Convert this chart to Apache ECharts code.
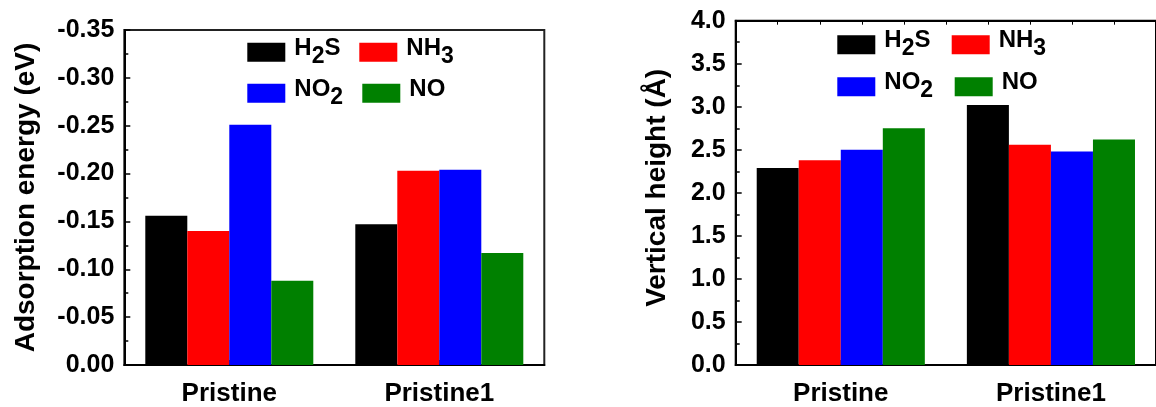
<!DOCTYPE html>
<html>
<head>
<meta charset="utf-8">
<script src="https://cdn.jsdelivr.net/npm/echarts@6/dist/echarts.min.js"></script>
<style>
html,body{margin:0;padding:0;background:#fff;}
#chart{width:1156px;height:407px;}
</style>
</head>
<body>
<div id="chart"></div>
<script>
var categories = ['Pristine', 'Pristine1'];
var seriesNames = ['H2S', 'NH3', 'NO2', 'NO'];
var seriesColors = ['#000000', '#FF0000', '#0000FF', '#008000'];
// Adsorption energy (eV)
var energyH2S = [-0.156, -0.147];
var energyNH3 = [-0.140, -0.203];
var energyNO2 = [-0.251, -0.204];
var energyNO  = [-0.088, -0.117];
// Vertical height (Å)
var heightH2S = [2.29, 3.02];
var heightNH3 = [2.38, 2.56];
var heightNO2 = [2.50, 2.48];
var heightNO  = [2.75, 2.62];
var energyTicks = { min: -0.35, max: 0, interval: 0.05 };
var heightTicks = { min: 0, max: 4.0, interval: 0.5 };

var energyData = [energyH2S, energyNH3, energyNO2, energyNO];
var heightData = [heightH2S, heightNH3, heightNO2, heightNO];

var FONT = '"Liberation Sans", Arial, sans-serif';
var legendRich = {
  b: { fontSize: 24, fontWeight: 'bold', fontFamily: FONT, color: '#000', padding: [0, 0, 8, 0] },
  p: { fontSize: 24, fontWeight: 'bold', fontFamily: FONT, color: '#000', padding: [0, 0, 8, 4] },
  s: { fontSize: 23, fontWeight: 'bold', fontFamily: FONT, color: '#000', padding: [8, 0, 0, 0] }
};
var legendFmt = {
  'H2S': '{p|H}{s|2}{b|S}',
  'NH3': '{p|NH}{s|3}',
  'NO2': '{p|NO}{s|2}',
  'NO':  '{p|NO}'
};
function legendItem(name, left, centerY) {
  return {
    data: [name], left: left, top: centerY - 15, padding: 0,
    itemWidth: 38, itemHeight: 19, icon: 'rect',
    selectedMode: false,
    itemStyle: { borderWidth: 0 },
    formatter: function (n) { return legendFmt[n]; },
    textStyle: { rich: legendRich }
  };
}

function valueAxis(grid, ticks, digits, name, nameGap, nameSize, namePad) {
  return {
    type: 'value', gridIndex: grid,
    min: ticks.min, max: ticks.max, interval: ticks.interval,
    inverse: ticks.min < 0,
    name: name, nameLocation: 'middle', nameRotate: 90, nameGap: nameGap,
    nameTextStyle: { fontSize: nameSize, fontWeight: 'bold', fontFamily: FONT, color: '#000', padding: namePad },
    axisLine: { show: true, lineStyle: { color: '#000', width: 2 } },
    axisTick: { show: true, inside: true, length: 6, lineStyle: { color: '#000', width: 1.5 } },
    minorTick: { show: true, splitNumber: 2, length: 4, lineStyle: { color: '#000', width: 1.5 } },
    splitLine: { show: false },
    axisLabel: {
      fontSize: 25, fontWeight: 'bold', fontFamily: FONT, color: '#000', margin: 10,
      formatter: function (v) { if (Math.abs(v) < 1e-9) v = 0; return v.toFixed(digits); }
    }
  };
}
function catAxis(grid) {
  return {
    type: 'category', gridIndex: grid, data: categories,
    axisLine: { show: true, lineStyle: { color: '#000', width: 2 } },
    axisTick: { show: true, inside: true, alignWithLabel: true, length: 5, lineStyle: { color: '#000', width: 1.5 } },
    axisLabel: { fontSize: 26, fontWeight: 'bold', fontFamily: FONT, color: '#000', margin: 16 },
    splitLine: { show: false }
  };
}

var series = [];
seriesNames.forEach(function (n, i) {
  series.push({ name: n, type: 'bar', xAxisIndex: 0, yAxisIndex: 0, data: energyData[i],
    barGap: '0%', barCategoryGap: '20%', itemStyle: { color: seriesColors[i] } });
});
seriesNames.forEach(function (n, i) {
  series.push({ name: n, type: 'bar', xAxisIndex: 1, yAxisIndex: 1, data: heightData[i],
    barGap: '0%', barCategoryGap: '20%', itemStyle: { color: seriesColors[i] } });
});

var option = {
  animation: false,
  backgroundColor: '#fff',
  grid: [
    { left: 124.3, top: 30, width: 420, height: 342, show: true, borderColor: '#222', borderWidth: 2, backgroundColor: 'transparent' },
    { left: 735.7, top: 20.7, width: 427, height: 350, show: true, borderColor: '#000', borderWidth: 2, backgroundColor: 'transparent' }
  ],
  xAxis: [
    catAxis(0), catAxis(1),
    { type: 'value', gridIndex: 1, position: 'top', min: 0, max: 10, interval: 1,
      axisLine: { show: true, lineStyle: { color: '#000', width: 2 } },
      axisTick: { show: true, inside: true, length: 4, lineStyle: { color: '#000', width: 1 } },
      axisLabel: { show: false }, splitLine: { show: false } }
  ],
  yAxis: [
    valueAxis(0, energyTicks, 2, 'Adsorption energy (eV)', 84, 28, [0, 0, 0, 0]),
    valueAxis(1, heightTicks, 1, 'Vertical height (Å)', 64, 28, [0, 0, 0, 10])
  ],
  legend: [
    legendItem('H2S', 247.3, 51.2), legendItem('NH3', 359.3, 51.2),
    legendItem('NO2', 247.3, 92.2), legendItem('NO', 362.3, 92.2),
    legendItem('H2S', 837.3, 43.7), legendItem('NH3', 951.7, 43.7),
    legendItem('NO2', 837.3, 85.8), legendItem('NO', 954.7, 85.8)
  ],
  series: series
};
var chart = echarts.init(document.getElementById('chart'), null, { renderer: 'canvas' });
chart.setOption(option);
</script>
</body>
</html>
